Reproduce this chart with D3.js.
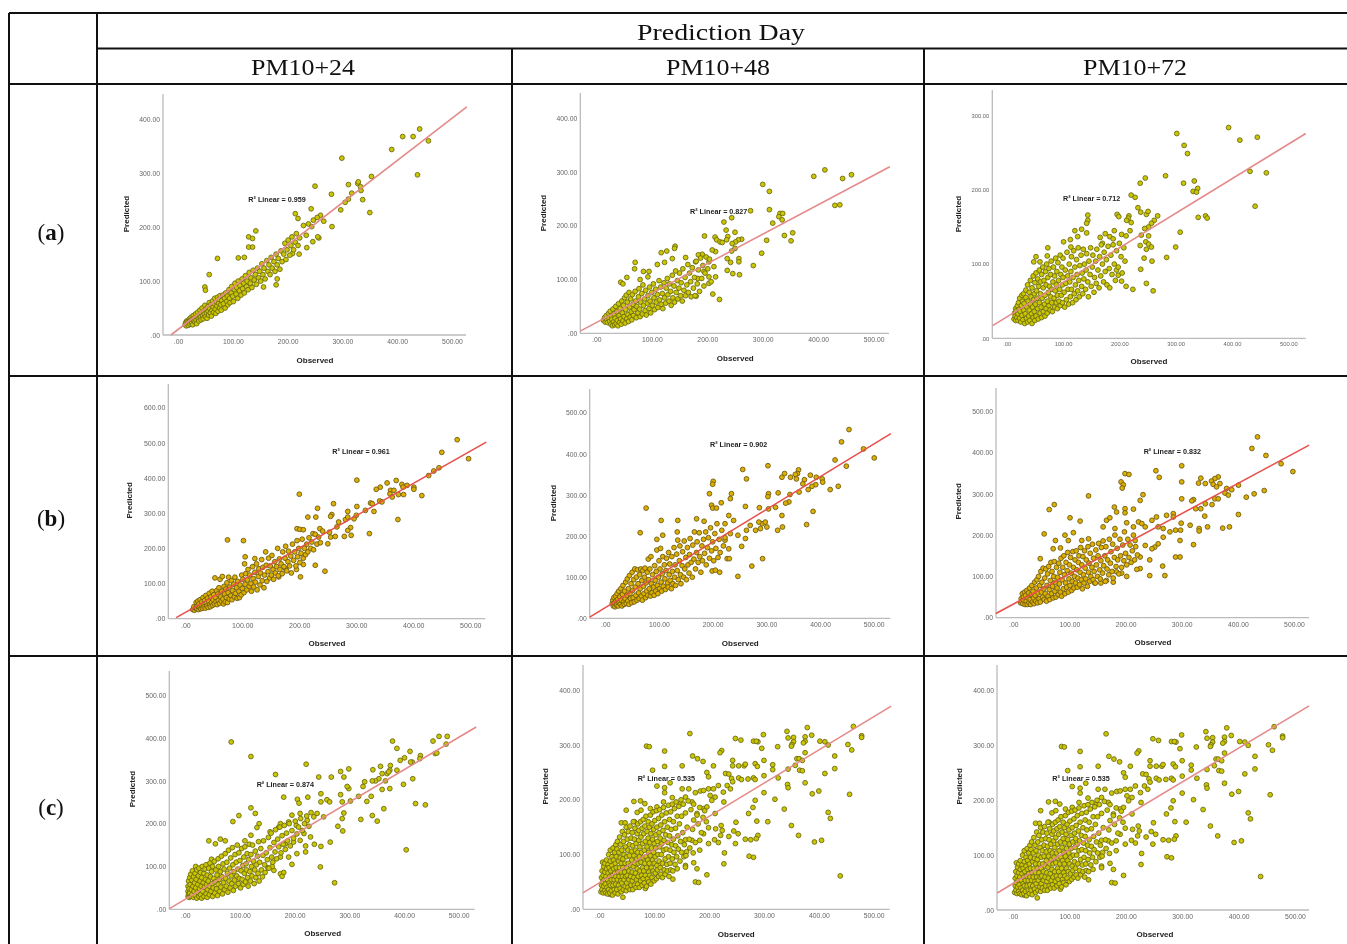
<!DOCTYPE html>
<html>
<head>
<meta charset="utf-8">
<title>Observed vs predicted PM10</title>
<script src="https://cdn.jsdelivr.net/npm/d3@7"></script>
<style>
  html, body { margin: 0; padding: 0; background: #fff; overflow: hidden; }
  svg { display: block; }
</style>
</head>
<body>
<div id="chart"></div>
<script>
// Observed / predicted pairs
const pointsA24 = [[441,382],[410,368],[429,368],[457,360],[390,344],[437,297],[299,328],[250,276],[280,261],[311,279],[328,281],[329,284],[317,263],[334,268],[333,275],[353,294],[305,246],[311,252],[337,251],[297,232],[350,227],[281,201],[214,225],[219,216],[243,234],[266,211],[260,222],[254,218],[247,213],[238,206],[229,203],[244,201],[234,185],[246,173],[257,180],[255,182],[235,162],[221,150],[209,151],[142,193],[129,182],[136,179],[129,163],[136,163],[72,142],[57,112],[110,143],[121,144],[181,104],[179,93],[156,89],[49,89],[50,83],
[13,19],[14,23],[15,17],[16,26],[17,21],[18,25],[19,18],[20,24],[21,30],[22,20],[23,27],[24,33],[25,22],[26,29],[27,19],[28,36],[29,26],[30,31],[31,24],[32,39],[33,28],[34,21],[35,34],[36,42],[37,30],[38,26],[39,37],[40,46],[41,33],[42,28],[43,40],[44,50],[45,36],[46,30],[47,44],[48,39],[49,55],[50,34],[51,47],[52,41],[53,31],[54,52],[55,44],[56,37],[57,60],[58,49],[59,41],[60,56],[61,35],[62,46],[63,63],[64,52],[65,42],[66,58],[67,68],[68,48],[69,40],[70,61],[71,54],[72,70],[73,44],[74,59],[75,66],[76,50],[77,73],[78,56],[79,46],[80,64],[82,74],[83,58],[85,68],[86,50],[87,78],[89,62],[90,72],[91,56],[93,84],[94,68],[95,60],[97,78],[98,90],[100,72],[101,62],[103,84],[104,96],[106,76],[107,88],[109,68],[110,100],[112,82],[113,92],[115,74],[117,104],[118,86],[120,96],[121,78],[123,110],[125,90],[126,100],[128,84],[130,116],[132,96],[133,106],[135,88],[137,120],[139,102],[141,112],[143,94],[145,124],[147,106],[149,118],[151,100],[153,132],[155,112],[157,124],[159,104],[162,138],[164,118],[166,130],[168,112],[170,144],[172,124],[175,136],[177,118],[179,150],[181,130],[183,142],[186,122],[188,156],[190,136],[193,150],[195,170],[197,140],[199,158],[201,176],[204,148],[206,166],[208,182],[211,158],[214,172],[216,188],[219,166],[222,180]];

const pointsA48 = [[460,295],[444,288],[412,304],[392,292],[439,239],[430,238],[300,277],[312,264],[312,230],[278,228],[331,223],[336,223],[329,217],[335,211],[318,205],[230,207],[244,215],[234,192],[250,188],[237,180],[235,174],[214,179],[217,174],[223,170],[227,169],[195,181],[262,175],[256,174],[251,170],[245,167],[250,158],[244,153],[354,187],[339,182],[307,173],[351,172],[298,149],[283,126],[257,139],[257,133],[236,139],[242,132],[236,117],[246,111],[258,109],[215,105],[222,63],[210,73],[180,69],[203,93],[142,162],[141,158],[127,153],[117,150],[137,139],[123,132],[110,128],[70,132],[69,120],[55,104],[44,95],[48,92],[85,115],[95,115],[93,105],[79,100],[215,152],[209,155],[191,147],[184,146],[179,133],[161,141],[203,133],[212,124],[194,115],[203,105],[183,102],
[13,24],[15,29],[16,21],[18,33],[19,25],[20,20],[22,37],[23,28],[24,22],[25,41],[26,17],[27,32],[28,26],[29,14],[30,45],[31,21],[32,36],[33,16],[34,28],[35,50],[36,18],[37,40],[38,24],[39,14],[40,55],[41,33],[42,20],[43,46],[44,27],[45,17],[46,60],[47,38],[48,23],[49,52],[50,31],[51,66],[52,19],[53,44],[54,71],[55,27],[56,58],[57,35],[58,22],[59,76],[60,49],[61,30],[62,64],[63,40],[64,25],[65,72],[66,54],[67,33],[68,44],[70,78],[71,60],[72,29],[73,50],[75,38],[76,68],[77,83],[78,45],[79,31],[80,58],[82,74],[83,36],[84,90],[85,52],[87,64],[88,42],[89,80],[90,34],[92,56],[93,70],[95,46],[96,86],[97,60],[98,38],[100,76],[101,52],[103,92],[104,66],[105,44],[107,82],[108,58],[110,72],[111,48],[113,98],[114,62],[116,86],[117,54],[119,74],[120,46],[122,94],[123,66],[125,56],[126,84],[128,102],[129,72],[131,60],[132,92],[134,78],[135,52],[137,108],[138,66],[140,88],[141,58],[143,116],[144,76],[146,98],[147,64],[149,84],[150,112],[152,70],[153,94],[155,60],[156,120],[158,80],[160,104],[161,70],[163,90],[165,128],[166,76],[168,112],[170,96],[171,68],[173,122],[175,84],[177,104],[178,70],[180,134],[182,92],[184,118],[186,78],[188,140],[190,102],[192,126],[194,88],[196,112],[198,142],[201,120],[204,138],[207,96]];

const pointsA72 = [[394,284],[302,276],[414,267],[445,271],[315,260],[321,249],[282,219],[246,216],[237,209],[314,209],[333,212],[339,202],[331,198],[337,197],[432,225],[461,223],[441,178],[221,193],[228,190],[340,163],[353,165],[356,162],[308,143],[300,123],[284,109],[233,176],[238,170],[248,167],[251,171],[268,165],[262,159],[257,155],[252,150],[245,148],[239,139],[252,138],[237,125],[247,130],[252,127],[257,123],[248,120],[244,108],[258,104],[238,93],[248,74],[260,64],[224,66],[212,70],[204,77],[198,85],[195,92],[217,165],[216,162],[221,156],[213,159],[196,167],[199,164],[219,145],[204,140],[212,138],[191,145],[175,141],[183,137],[189,134],[144,166],[144,159],[142,155],[133,147],[121,145],[142,142],[126,137],[101,130],[113,133],[114,123],[73,122],[72,111],[52,110],[48,103],[59,103],[166,136],[170,128],
[13,26],[14,34],[15,30],[16,24],[16,40],[17,37],[18,28],[19,44],[20,33],[20,24],[21,48],[22,39],[23,27],[23,54],[24,36],[25,22],[26,44],[27,58],[27,31],[28,50],[29,25],[30,38],[30,60],[31,47],[32,20],[33,33],[34,55],[34,65],[35,27],[36,42],[37,22],[37,72],[38,50],[39,30],[40,62],[40,38],[41,24],[42,78],[42,46],[43,56],[44,33],[45,20],[45,68],[46,42],[47,84],[47,28],[48,52],[49,60],[49,36],[50,75],[50,24],[51,46],[52,88],[52,30],[53,64],[54,54],[55,40],[55,80],[56,26],[57,70],[58,48],[58,92],[59,34],[60,60],[60,76],[61,42],[62,28],[62,86],[63,54],[64,96],[65,36],[65,68],[66,78],[67,46],[68,30],[68,58],[69,90],[70,40],[70,72],[71,100],[72,50],[72,34],[73,82],[74,62],[75,44],[75,94],[76,70],[77,38],[78,56],[78,86],[79,104],[80,48],[80,66],[81,36],[82,76],[83,96],[84,54],[85,42],[85,84],[86,64],[87,108],[88,48],[88,72],[89,90],[90,40],[90,58],[91,102],[92,78],[93,50],[94,66],[95,44],[95,112],[96,86],[97,58],[98,96],[99,72],[99,48],[100,82],[100,108],[102,62],[103,42],[104,92],[105,74],[106,52],[107,116],[108,84],[109,66],[110,46],[111,100],[112,76],[113,56],[114,90],[115,110],[115,66],[117,48],[118,82],[119,118],[120,60],[121,96],[122,72],[123,52],[124,106],[125,86],[126,64],[127,122],[128,78],[129,56],[130,98],[132,112],[133,70],[134,88],[135,60],[136,120],[137,80],[138,100],[140,66],[141,92],[142,114],[144,76],[145,56],[146,104],[148,86],[149,122],[150,70],[152,96],[153,112],[155,62],[156,82],[158,104],[159,74],[160,120],[162,92],[164,68],[165,110],[167,84],[168,126],[170,100],[172,76],[173,116],[175,90],[177,106],[178,72],[180,124],[182,94],[183,68],[185,112],[187,86],[189,126],[191,100],[193,78],[195,118],[198,96],[200,128],[203,110],[205,88],[208,122],[210,104]];

const pointsB24 = [[477,509],[450,473],[497,455],[436,420],[445,429],[427,407],[301,394],[200,354],[415,350],[401,374],[401,368],[389,379],[380,382],[382,374],[370,393],[354,386],[342,374],[335,368],[360,365],[366,365],[359,355],[363,346],[374,353],[383,353],[373,282],[341,335],[345,332],[325,329],[328,327],[316,308],[331,305],[323,242],[301,319],[285,305],[300,294],[296,284],[260,327],[232,314],[257,296],[255,291],[215,289],[229,289],[290,259],[285,251],[279,234],[291,237],[269,275],[266,261],[255,232],[263,234],[250,213],[281,282],[285,289],[196,256],[201,254],[207,253],[74,224],[102,222],[105,176],[122,171],[228,152],[245,135],[195,140],[202,119],[207,154],[164,119],[176,142],[224,242],[236,256],[241,249],[253,246],
[13,26],[15,34],[16,24],[18,30],[19,46],[20,28],[21,36],[22,50],[23,26],[24,42],[25,32],[26,54],[27,28],[28,38],[29,48],[30,30],[31,60],[32,40],[33,34],[34,52],[35,30],[36,66],[37,44],[38,36],[39,58],[40,32],[41,50],[42,72],[43,40],[44,34],[45,62],[46,46],[47,78],[48,38],[49,54],[50,68],[51,42],[52,116],[53,60],[54,48],[55,80],[56,40],[57,70],[58,52],[59,88],[60,44],[61,112],[62,62],[63,50],[64,78],[65,120],[66,56],[67,42],[68,92],[69,70],[70,48],[71,84],[72,60],[73,102],[74,46],[75,74],[76,118],[77,56],[78,90],[80,66],[81,108],[82,54],[83,80],[85,98],[86,62],[87,118],[88,72],[90,88],[91,58],[92,106],[94,78],[95,60],[96,96],[98,68],[99,124],[100,86],[101,112],[103,74],[104,156],[105,98],[106,128],[108,82],[109,110],[110,140],[112,92],[113,124],[115,100],[116,78],[118,148],[119,114],[120,90],[122,132],[123,104],[125,156],[126,82],[128,120],[129,142],[131,96],[132,130],[134,168],[135,108],[136,146],[138,88],[139,124],[141,190],[142,152],[143,106],[145,134],[146,172],[148,116],[149,150],[151,124],[152,180],[154,140],[155,112],[157,162],[158,130],[160,148],[162,200],[163,122],[165,170],[166,140],[168,156],[170,128],[171,190],[173,148],[175,172],[176,206],[178,136],[180,162],[181,192],[183,150],[185,178],[186,130],[188,212],[190,166],[192,190],[194,150],[196,222],[197,176],[199,200],[201,160],[203,186],[205,226],[207,172],[209,200],[211,182],[213,212],[215,190],[217,230],[220,200],[222,218],[225,196],[228,240],[231,212],[234,232],[237,216]];

const pointsB48 = [[454,459],[440,429],[481,412],[501,390],[428,385],[449,370],[434,321],[419,313],[303,371],[256,362],[263,339],[201,333],[200,326],[194,303],[235,303],[233,291],[216,281],[198,275],[200,268],[207,268],[261,272],[287,269],[76,268],[104,238],[135,238],[170,242],[184,236],[65,208],[107,202],[96,192],[134,210],[360,361],[358,352],[354,350],[334,352],[329,343],[345,343],[356,339],[371,337],[382,348],[393,343],[404,339],[405,331],[368,327],[392,325],[385,321],[378,313],[361,307],[344,301],[322,305],[342,283],[336,280],[317,270],[329,250],[304,303],[303,296],[304,266],[387,260],[375,228],[330,222],[321,214],[293,145],[273,127],[247,102],[213,112],[199,115],[205,117],[292,230],[298,234],[301,222],[289,218],[280,214],[286,234],[270,226],[263,214],[261,194],[254,175],[247,202],[230,250],[239,238],[223,230],[233,206],[223,190],[230,169],[227,145],[231,145],
[13,36],[14,44],[15,30],[16,50],[17,38],[18,28],[19,54],[20,42],[21,32],[22,60],[23,46],[24,30],[25,66],[26,38],[27,52],[28,34],[29,72],[30,44],[31,30],[32,58],[33,80],[34,40],[35,34],[36,66],[37,48],[38,88],[39,36],[40,56],[41,96],[42,42],[43,72],[44,34],[45,104],[46,60],[47,48],[48,84],[49,38],[50,112],[51,68],[52,50],[53,94],[54,40],[55,120],[56,76],[57,56],[58,100],[59,44],[60,118],[61,84],[62,62],[63,48],[64,106],[65,72],[66,120],[67,54],[68,92],[69,44],[70,116],[71,78],[72,60],[73,100],[74,122],[75,50],[76,86],[77,66],[78,112],[79,56],[80,144],[81,94],[82,72],[83,120],[84,54],[85,150],[86,84],[87,62],[88,106],[90,76],[91,56],[92,128],[93,92],[94,66],[95,114],[96,166],[97,80],[98,60],[99,100],[100,140],[101,72],[102,120],[103,170],[104,88],[105,66],[106,108],[107,150],[108,78],[110,130],[111,96],[112,70],[113,116],[114,146],[116,86],[117,76],[118,160],[119,106],[120,132],[121,92],[123,72],[124,150],[125,114],[126,84],[128,172],[129,100],[130,130],[131,80],[133,156],[134,116],[135,190],[136,94],[138,140],[139,176],[140,106],[141,84],[143,128],[144,162],[146,100],[147,188],[148,120],[150,148],[151,94],[153,172],[154,130],[156,110],[157,155],[158,194],[160,136],[162,100],[163,178],[165,144],[166,210],[168,120],[170,160],[171,186],[173,136],[175,208],[176,150],[178,112],[180,176],[181,140],[183,192],[185,158],[187,210],[188,130],[190,172],[192,196],[194,146],[196,220],[198,164],[200,186],[202,140],[204,206],[206,170],[208,230],[210,148],[212,192],[214,160],[217,214],[220,176],[223,196]];

const pointsB72 = [[435,438],[425,410],[450,393],[477,373],[498,354],[447,308],[429,300],[415,292],[401,250],[385,220],[373,217],[300,368],[300,329],[300,288],[254,356],[260,340],[199,349],[206,347],[192,329],[196,322],[194,314],[231,298],[226,284],[134,295],[73,274],[64,262],[101,242],[119,234],[55,203],[75,187],[92,200],[107,206],[98,187],[71,167],[84,169],[48,143],[122,187],[134,191],[365,341],[359,337],[334,338],[330,326],[342,325],[353,331],[356,323],[368,325],[362,317],[380,313],[389,310],[401,321],[377,302],[383,297],[359,288],[365,288],[354,274],[321,286],[318,283],[342,276],[334,264],[325,264],[341,246],[346,220],[331,216],[331,210],[315,224],[321,177],[289,147],[297,147],[266,125],[270,102],[243,102],[226,119],[220,117],[202,100],[193,108],[184,111],[178,86],[166,90],[156,84],[145,84],[180,268],[184,256],[199,264],[199,254],[214,263],[202,230],[214,220],[223,232],[229,228],[235,220],[247,236],[255,244],[273,248],[285,252],[285,244],[299,229],[289,212],[298,212],[279,208],[267,216],[258,220],[267,195],[258,179],[252,171],[247,167],[243,140],[226,147],[235,175],[217,187],[297,187],[166,236],[172,242],[181,216],[160,220],
[13,36],[14,46],[15,40],[16,58],[17,34],[18,50],[19,42],[20,62],[21,32],[22,54],[23,40],[24,66],[25,32],[26,48],[27,60],[28,36],[29,72],[30,44],[31,32],[32,56],[33,78],[34,38],[35,64],[36,48],[37,34],[38,86],[39,54],[40,40],[41,72],[42,92],[43,36],[44,60],[45,100],[46,46],[47,78],[48,38],[49,112],[50,62],[51,86],[52,50],[53,120],[54,70],[55,44],[56,96],[57,58],[58,118],[59,40],[60,78],[61,106],[62,52],[63,124],[64,68],[65,44],[66,90],[67,134],[68,58],[69,112],[70,76],[71,48],[72,100],[73,136],[74,64],[75,86],[76,50],[77,122],[78,72],[79,98],[80,56],[81,132],[82,82],[83,110],[84,62],[85,144],[86,52],[87,92],[88,122],[89,70],[90,150],[91,104],[92,58],[93,84],[94,134],[95,74],[96,114],[97,158],[98,62],[99,94],[100,128],[101,78],[102,146],[103,108],[104,66],[105,88],[106,160],[107,122],[108,72],[109,100],[110,140],[111,84],[112,162],[113,116],[114,74],[115,96],[116,134],[117,150],[118,80],[119,110],[120,170],[121,92],[122,128],[123,70],[124,148],[125,104],[126,84],[127,162],[128,120],[129,94],[130,140],[132,76],[133,172],[134,110],[135,132],[136,88],[137,156],[138,100],[140,122],[141,178],[142,92],[143,144],[144,112],[146,84],[147,164],[148,128],[150,100],[151,150],[152,180],[154,116],[155,94],[156,138],[157,170],[159,108],[160,186],[161,126],[163,150],[164,88],[165,172],[167,118],[168,140],[170,104],[171,190],[173,132],[174,160],[176,112],[177,178],[178,96],[180,146],[181,200],[183,124],[185,168],[186,140],[188,106],[190,190],[191,150],[193,122],[195,176],[197,138],[198,208],[200,156],[202,128],[204,190],[206,146],[208,176],[210,134],[212,162],[214,200],[216,140],[218,172],[221,152]];

const pointsC24 = [[84,391],[120,357],[221,339],[165,315],[244,309],[267,309],[290,309],[299,328],[284,322],[343,326],[357,334],[375,336],[379,393],[387,376],[411,369],[401,354],[393,348],[453,393],[464,404],[479,404],[477,386],[457,364],[460,365],[430,359],[429,352],[415,344],[412,344],[416,305],[399,292],[387,325],[374,325],[369,317],[372,321],[360,317],[354,305],[348,300],[342,300],[366,300],[360,280],[374,282],[328,298],[325,287],[317,264],[299,282],[296,287],[332,252],[340,264],[302,253],[287,251],[284,268],[259,256],[264,251],[248,270],[248,251],[224,262],[180,262],[205,257],[208,248],[421,247],[439,244],[363,235],[342,219],[351,206],[321,210],[404,139],[273,62],[247,99],[248,147],[265,157],[279,194],[288,183],[287,212],[290,225],[120,237],[128,224],[98,219],[87,205],[135,200],[131,191],[43,160],[55,153],[64,164],[73,160],[48,117],[19,100],[109,160],[120,173],[220,148],[236,152],[220,134],[204,130],[195,105],[174,83],[180,86],[177,77],[162,91],[151,97],[159,100],[241,224],[253,216],[235,216],[223,208],[210,224],[195,220],[189,204],[174,200],[171,192],[155,181],[203,196],[217,177],[229,169],[210,161],[198,157],[183,153],[189,122],[174,122],
[5,30],[5,42],[5,54],[6,36],[6,66],[7,28],[7,48],[8,74],[8,38],[9,58],[10,30],[10,82],[11,46],[12,68],[12,34],[13,90],[14,54],[15,28],[15,76],[16,42],[17,62],[18,84],[18,32],[19,50],[20,70],[21,26],[21,92],[22,40],[23,58],[24,78],[25,30],[25,96],[26,48],[27,66],[28,34],[28,86],[29,54],[30,26],[30,74],[31,100],[32,42],[33,62],[34,30],[34,84],[35,52],[36,94],[37,70],[38,36],[38,104],[39,58],[40,28],[40,80],[41,46],[42,66],[43,96],[44,34],[44,54],[45,108],[46,76],[47,42],[48,88],[49,60],[50,30],[50,100],[51,50],[52,72],[53,112],[54,38],[55,64],[56,92],[57,48],[58,80],[59,32],[60,118],[60,58],[61,100],[62,70],[63,42],[64,88],[65,52],[66,124],[67,76],[68,36],[69,106],[70,62],[71,94],[72,46],[73,130],[74,72],[75,54],[76,110],[77,84],[78,40],[79,138],[80,66],[81,96],[82,50],[83,120],[84,78],[85,60],[86,144],[87,104],[88,44],[89,88],[90,68],[91,128],[92,54],[93,110],[94,78],[95,150],[96,94],[97,60],[98,132],[99,72],[100,114],[101,50],[102,90],[103,142],[104,70],[105,102],[106,58],[107,122],[108,84],[109,146],[110,64],[111,106],[112,92],[113,130],[114,74],[115,54],[116,116],[117,152],[118,88],[119,66],[120,128],[121,100],[122,78],[123,150],[125,112],[126,60],[127,92],[128,136],[129,74],[130,104],[132,124],[133,84],[134,158],[135,66],[136,110],[138,142],[139,92],[141,76],[142,126],[143,160],[145,104],[146,86],[148,132],[150,116],[152,168],[153,96],[155,144],[157,178],[158,122],[160,110],[162,156],[164,134],[165,186],[167,118],[169,164],[171,146],[173,192],[175,132],[177,172],[179,152],[181,196],[183,140],[185,178],[187,160],[190,200],[192,148],[195,184],[198,166],[201,206],[204,176],[207,192],[211,212],[214,184],[218,200],[222,218],[226,194],[230,226]];

const pointsC48 = [[463,334],[478,317],[478,314],[453,301],[460,291],[379,332],[342,325],[299,319],[165,321],[375,315],[375,307],[354,314],[344,313],[387,318],[354,306],[351,301],[350,298],[372,304],[402,307],[411,306],[417,300],[325,297],[296,294],[289,306],[281,307],[286,307],[248,312],[258,309],[86,298],[91,297],[119,289],[223,290],[220,286],[170,280],[179,275],[189,270],[375,286],[429,280],[360,275],[364,275],[370,272],[357,263],[344,256],[365,254],[370,253],[429,257],[411,248],[375,231],[343,228],[344,222],[388,211],[400,216],[456,210],[243,272],[243,262],[264,262],[254,262],[266,265],[284,266],[288,261],[316,264],[300,272],[316,255],[208,262],[151,262],[119,261],[97,254],[196,250],[199,242],[230,248],[236,247],[241,239],[254,240],[259,237],[271,238],[281,240],[284,237],[300,244],[326,240],[300,213],[320,201],[337,183],[284,199],[280,186],[272,175],[287,161],[307,160],[249,159],[350,153],[363,135],[289,135],[286,129],[266,128],[276,127],[248,120],[253,138],[245,143],[236,133],[228,103],[227,83],[392,123],[405,126],[417,177],[421,166],[273,97],[281,95],[439,61],[196,63],[175,50],[181,49],[178,74],[157,80],[172,85],[157,77],[154,96],[159,105],[171,103],[183,108],[199,120],[217,122],[210,127],[221,135],[224,144],[222,153],[212,147],[199,149],[190,138],[183,126],[169,126],[157,127],[105,225],[119,222],[119,213],[129,231],[133,204],[151,220],[163,220],[175,213],[184,216],[190,217],[199,220],[208,220],[217,226],[202,208],[211,205],[205,199],[226,214],[233,226],[239,220],[243,233],[227,196],[211,175],[63,197],[75,198],[83,193],[49,181],[69,177],[76,181],[93,184],[105,187],[117,196],[40,158],[47,158],[64,160],[157,205],[148,193],[169,196],[190,184],[178,175],[172,163],[196,187],[134,55],[84,38],[43,22],[20,27],[6,86],
[3,32],[4,44],[4,58],[5,36],[5,70],[6,50],[7,30],[7,62],[8,78],[8,42],[9,54],[10,34],[10,68],[10,84],[11,46],[12,30],[12,60],[13,74],[13,90],[14,40],[15,54],[15,28],[16,82],[16,66],[17,36],[17,100],[18,48],[18,76],[19,60],[19,30],[20,88],[20,44],[20,108],[21,70],[22,34],[22,54],[23,96],[23,80],[24,26],[24,62],[25,44],[25,112],[26,74],[26,90],[27,36],[27,54],[28,104],[28,66],[29,30],[29,84],[30,46],[30,118],[30,60],[31,76],[31,96],[32,36],[32,110],[33,54],[33,124],[34,68],[34,28],[35,88],[35,44],[36,104],[36,60],[37,132],[37,76],[38,38],[38,94],[39,52],[39,118],[40,68],[40,84],[40,32],[41,108],[41,48],[42,142],[42,60],[43,92],[43,76],[44,36],[44,124],[45,54],[45,100],[46,68],[46,136],[47,42],[47,84],[48,114],[48,60],[49,150],[49,34],[50,76],[50,96],[50,48],[51,128],[51,62],[52,108],[52,40],[53,84],[53,142],[54,54],[54,70],[55,118],[55,98],[56,36],[56,152],[57,80],[57,60],[58,130],[58,44],[59,106],[59,90],[60,68],[60,140],[60,52],[61,116],[61,36],[62,78],[62,160],[63,98],[63,58],[64,128],[64,44],[65,84],[65,148],[66,66],[66,108],[67,40],[67,120],[68,92],[68,54],[69,138],[69,74],[70,156],[70,104],[70,46],[71,84],[71,60],[72,126],[72,144],[73,96],[73,40],[74,70],[74,114],[75,52],[75,160],[76,86],[76,132],[77,62],[77,104],[78,148],[78,44],[79,76],[79,120],[80,94],[80,56],[80,164],[81,138],[81,70],[82,108],[82,48],[83,84],[83,152],[84,124],[84,62],[85,96],[85,170],[86,42],[86,76],[87,142],[87,114],[88,56],[88,90],[89,130],[89,160],[90,68],[90,104],[90,50],[91,150],[91,84],[92,122],[92,62],[93,172],[93,98],[94,46],[94,138],[95,76],[95,112],[96,156],[96,58],[97,90],[97,128],[98,70],[98,178],[99,104],[99,146],[100,52],[100,84],[100,120],[101,162],[102,66],[102,96],[103,136],[103,112],[104,180],[104,56],[105,80],[105,150],[106,124],[106,72],[107,100],[108,166],[108,60],[109,140],[109,88],[110,114],[110,182],[111,76],[111,130],[112,64],[112,154],[113,100],[114,120],[114,172],[115,84],[115,58],[116,144],[117,108],[117,186],[118,72],[118,126],[119,160],[120,92],[120,64],[121,136],[122,176],[122,110],[123,82],[124,150],[124,70],[125,122],[126,190],[126,96],[127,60],[128,164],[128,134],[129,84],[129,108],[130,178],[130,72],[131,146],[132,118],[133,192],[133,92],[134,70],[135,160],[135,128],[136,104],[137,184],[138,82],[139,148],[139,116],[140,196],[141,96],[142,170],[142,74],[143,134],[144,110],[145,188],[146,156],[147,88],[148,124],[149,200],[150,104],[150,170],[152,140],[153,192],[155,118],[157,176],[158,98],[160,150],[162,198],[164,128],[165,112],[167,182],[170,146],[172,192],[175,122],[178,172],[180,156],[183,186],[186,140],[189,168],[192,180],[195,160]];

// c/PM10+72 shows the same cloud as c/PM10+48
const pointsC72 = pointsC48;

const xTicks = [0, 100, 200, 300, 400, 500];
const yTicks300 = [0, 100, 200, 300];
const yTicks400 = [0, 100, 200, 300, 400];
const yTicks500 = [0, 100, 200, 300, 400, 500];
const yTicks600 = [0, 100, 200, 300, 400, 500, 600];

const columnLabels = ['PM10+24', 'PM10+48', 'PM10+72'];
const rowLabels = ['a', 'b', 'c'];
const r2Labels = ['0.959', '0.827', '0.712', '0.961', '0.902', '0.832', '0.874', '0.535', '0.535'];

// fit line ends as [observed, predicted]
const fitLines = [
    [[-13, 0], [527, 423]], [[-29, 4], [529, 310]], [[-25, 17], [531, 276]],
    [[-16, 3], [528, 502]], [[-29, 3], [532, 449]], [[-31, 10], [527, 418]],
    [[-29, 1.5], [532, 426]], [[-30, 30], [532, 371]], [[-28, 31], [525, 372]]
];

const width = 1347;
const height = 944;
const serif = '"Liberation Serif", serif';
const sans = '"Liberation Sans", Arial, sans-serif';

// pixel layout of each panel, same order as the labels above
const layouts = [
    { points: pointsA24, yTicks: yTicks400, yTop: 400, xr: [178, 452], yr: [335, 119.3], axisX: 163, axisTop: 94, axisRight: 466, note: [277, 199], xLab: [315, 360], yLab: [126, 214], font: 6.8 },
    { points: pointsA48, yTicks: yTicks400, yTop: 400, xr: [596.3, 873.7], yr: [333.3, 118.3], axisX: 580.3, axisTop: 93, axisRight: 889, note: [718.7, 211], xLab: [735.3, 357.5], yLab: [542.7, 213], font: 6.8 },
    { points: pointsA72, yTicks: yTicks300, yTop: 300, xr: [1006.7, 1288.3], yr: [338.3, 115.7], axisX: 992.3, axisTop: 90, axisRight: 1305.7, note: [1091.7, 198.5], xLab: [1149, 361], yLab: [958.3, 214], font: 5.8 },
    { points: pointsB24, yTicks: yTicks600, yTop: 600, xr: [185.3, 470.3], yr: [618.7, 407.7], axisX: 168.3, axisTop: 384, axisRight: 485.3, note: [361, 451], xLab: [327, 643], yLab: [129.3, 500.3], font: 7 },
    { points: pointsB48, yTicks: yTicks500, yTop: 500, xr: [605.3, 873.7], yr: [618.3, 412.7], axisX: 589.7, axisTop: 389, axisRight: 890.3, note: [738.7, 444], xLab: [740.3, 642.7], yLab: [552.7, 503], font: 6.8 },
    { points: pointsB72, yTicks: yTicks500, yTop: 500, xr: [1013.3, 1294], yr: [617.7, 411.3], axisX: 996, axisTop: 388, axisRight: 1309, note: [1172.3, 451.7], xLab: [1153, 641.7], yLab: [957.7, 501.3], font: 6.8 },
    { points: pointsC24, yTicks: yTicks500, yTop: 500, xr: [185.3, 458.7], yr: [909.3, 695.3], axisX: 169.3, axisTop: 671, axisRight: 474.7, note: [285.3, 784], xLab: [322.7, 933], yLab: [132, 789], font: 6.8 },
    { points: pointsC48, yTicks: yTicks400, yTop: 400, xr: [599.3, 873.7], yr: [909.3, 690.3], axisX: 583, axisTop: 665, axisRight: 889.7, note: [666.3, 778], xLab: [736.3, 933.7], yLab: [545.3, 786.3], font: 6.8 },
    { points: pointsC72, yTicks: yTicks400, yTop: 400, xr: [1013, 1295], yr: [910, 690.5], axisX: 997, axisTop: 665, axisRight: 1309, note: [1081, 778], xLab: [1155, 934], yLab: [959, 786.3], font: 6.8 }
];

const dotFill = ['#cbc600', '#dbb000', '#cbc600'];
const dotEdge = ['#6c6b14', '#6f5a14', '#6c6b14'];
const lineColor = ['#e58a8a', '#e8504c', '#e58a8a'];

const svg = d3.select('#chart').append('svg')
    .attr('width', width)
    .attr('height', height)
    .attr('viewBox', `0 0 ${width} ${height}`);

svg.append('rect').attr('width', width).attr('height', height).attr('fill', '#fff');

// the source panels are low resolution bitmaps, so soften them a little
svg.append('defs').append('filter').attr('id', 'soft')
    .attr('x', '-5%').attr('y', '-5%').attr('width', '110%').attr('height', '110%')
    .append('feGaussianBlur').attr('stdDeviation', 0.55);

const tickFormat = d => d === 0 ? '.00' : d3.format('.2f')(d);

layouts.forEach((p, i) => {
    const rowIdx = Math.floor(i / 3);
    const x = d3.scaleLinear().domain([0, 500]).range(p.xr);
    const y = d3.scaleLinear().domain([0, p.yTop]).range(p.yr);
    const g = svg.append('g').attr('class', 'panel').attr('filter', 'url(#soft)');

    // Axes
    const xAxis = g.append('g')
        .attr('transform', `translate(0,${p.yr[0]})`)
        .call(d3.axisBottom(x).tickValues(xTicks).tickFormat(tickFormat).tickSize(0).tickPadding(4));
    const yAxis = g.append('g')
        .attr('transform', `translate(${p.axisX},0)`)
        .call(d3.axisLeft(y).tickValues(p.yTicks).tickFormat(tickFormat).tickSize(0).tickPadding(3));
    [xAxis, yAxis].forEach(a => {
        a.select('.domain').remove();
        a.selectAll('text').attr('fill', '#666').attr('font-family', sans).attr('font-size', p.font);
    });
    g.append('line').attr('x1', p.axisX).attr('x2', p.axisRight)
        .attr('y1', p.yr[0]).attr('y2', p.yr[0])
        .attr('stroke', '#bbb').attr('stroke-width', 1.3);
    g.append('line').attr('x1', p.axisX).attr('x2', p.axisX)
        .attr('y1', p.axisTop).attr('y2', p.yr[0])
        .attr('stroke', '#bbb').attr('stroke-width', 1.3);

    // Points
    g.append('g').selectAll('circle').data(p.points).join('circle')
        .attr('cx', d => x(d[0]))
        .attr('cy', d => y(d[1]))
        .attr('r', 2.4)
        .attr('fill', dotFill[rowIdx])
        .attr('stroke', dotEdge[rowIdx])
        .attr('stroke-width', 0.9);

    // Fit line
    const fit = fitLines[i];
    g.append('line')
        .attr('x1', x(fit[0][0])).attr('y1', y(fit[0][1]))
        .attr('x2', x(fit[1][0])).attr('y2', y(fit[1][1]))
        .attr('stroke', lineColor[rowIdx])
        .attr('stroke-width', 1.6);

    // Labels
    g.append('text').attr('x', p.note[0]).attr('y', p.note[1] + 2.5)
        .attr('text-anchor', 'middle').attr('font-family', sans).attr('font-weight', 700)
        .attr('font-size', 7.2).attr('fill', '#222')
        .text(`R² Linear = ${r2Labels[i]}`);
    g.append('text').attr('x', p.xLab[0]).attr('y', p.xLab[1] + 3)
        .attr('text-anchor', 'middle').attr('font-family', sans).attr('font-weight', 700)
        .attr('font-size', 8).attr('fill', '#222')
        .text('Observed');
    g.append('text').attr('transform', `translate(${p.yLab[0] + 3},${p.yLab[1]}) rotate(-90)`)
        .attr('text-anchor', 'middle').attr('font-family', sans).attr('font-weight', 700)
        .attr('font-size', 8).attr('fill', '#222')
        .text('Predicted');
});

// Table grid
const gridH = [[9, 1347, 13], [97, 1347, 48.5], [9, 1347, 84], [9, 1347, 376], [9, 1347, 656]];
const gridV = [[9, 13, 944], [97, 13, 944], [512, 49, 944], [924, 49, 944]];
svg.append('g').selectAll('line').data(gridH).join('line')
    .attr('x1', d => d[0]).attr('x2', d => d[1])
    .attr('y1', d => d[2]).attr('y2', d => d[2])
    .attr('stroke', '#111').attr('stroke-width', 2);
svg.append('g').selectAll('line').data(gridV).join('line')
    .attr('x1', d => d[0]).attr('x2', d => d[0])
    .attr('y1', d => d[1]).attr('y2', d => d[2])
    .attr('stroke', '#111').attr('stroke-width', 2);

// Table text, stretched a little since the original face runs wider
const headText = (txt, cx, cy, size, len) => svg.append('text')
    .attr('x', cx).attr('y', cy).attr('text-anchor', 'middle')
    .attr('font-family', serif).attr('font-size', size).attr('fill', '#111')
    .attr('textLength', len).attr('lengthAdjust', 'spacingAndGlyphs')
    .text(txt);

headText('Prediction Day', 721, 40, 24, 168);
[303, 718, 1135].forEach((cx, i) => headText(columnLabels[i], cx, 75, 24, 104));

[240, 526, 815].forEach((cy, i) => {
    const t = svg.append('text').attr('x', 51).attr('y', cy).attr('text-anchor', 'middle')
        .attr('font-family', serif).attr('font-size', 23).attr('fill', '#111');
    t.append('tspan').text('(');
    t.append('tspan').attr('font-weight', 700).text(rowLabels[i]);
    t.append('tspan').text(')');
});
</script>
</body>
</html>
